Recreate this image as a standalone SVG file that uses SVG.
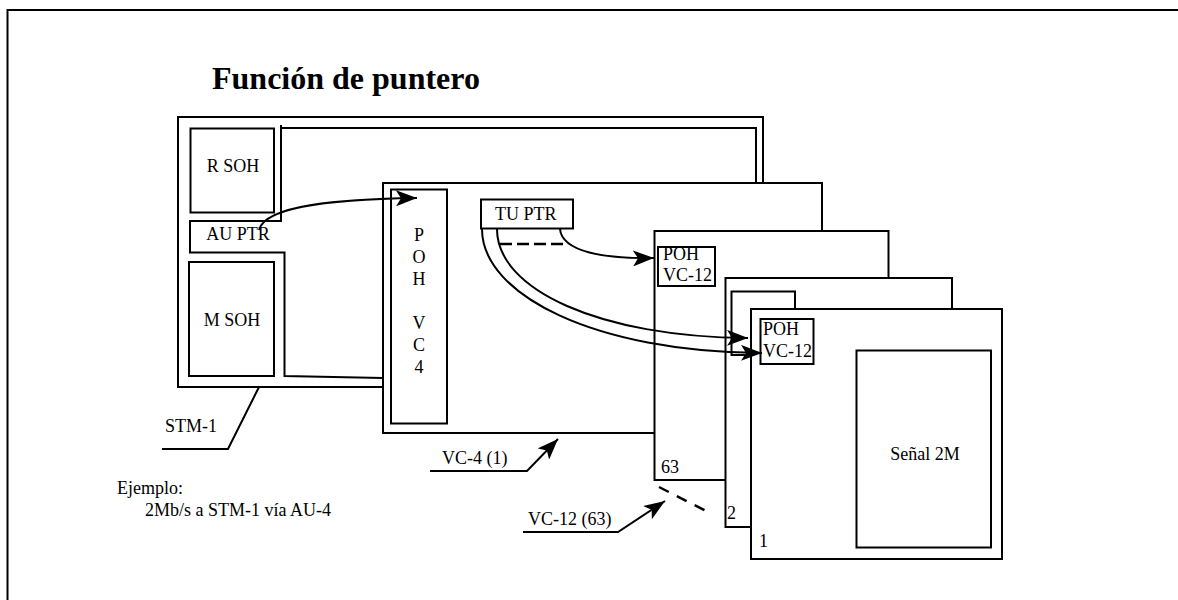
<svg xmlns="http://www.w3.org/2000/svg" width="1178" height="600" viewBox="0 0 1178 600">
<style>
.ln{fill:none;stroke:#000;stroke-width:2}
.bx{fill:#fff;stroke:#000;stroke-width:2}
.t{font-family:"Liberation Serif","Times New Roman",serif;font-size:18px;fill:#000}
.m{text-anchor:middle}
.ttl{font-family:"Liberation Serif","Times New Roman",serif;font-size:32px;font-weight:bold;fill:#000}
.dash{fill:none;stroke:#000;stroke-width:2.5;stroke-dasharray:12 5}
.dash2{fill:none;stroke:#000;stroke-width:2.5;stroke-dasharray:11 9}
.arr{fill:none;stroke:#000;stroke-width:2;marker-end:url(#ah)}
</style>
<defs>
<marker id="ah" viewBox="0 0 22 16" markerWidth="22" markerHeight="16" refX="21" refY="8" orient="auto" markerUnits="userSpaceOnUse">
<path d="M0,0 L21,8 L0,16 L5,8 Z" fill="#000"/>
</marker>
</defs>
<rect width="1178" height="600" fill="#fff"/>
<path class="ln" d="M7.5,600 V10 H1178"/>
<text class="ttl" x="212" y="89">Función de puntero</text>

<g id="stm1">
<path class="ln" d="M177,117 H763 V387 H177 M178,117 V387"/>
<path class="ln" d="M281,125 V221 H190 V252.5 H284.5 V376 L383,378"/>
<path class="ln" d="M281,128 H756 V380"/>
<rect class="ln" x="190.5" y="128.5" width="83.5" height="84"/>
<rect class="ln" x="189" y="262" width="85" height="114"/>
<text class="t m" x="233" y="172">R SOH</text>
<text class="t m" x="238" y="240">AU PTR</text>
<text class="t m" x="232" y="326">M SOH</text>
<path class="ln" d="M259,387 L228,449 H162"/>
<text class="t" x="165" y="432">STM-1</text>
</g>

<g id="vc4">
<rect class="bx" x="383" y="183" width="439" height="250"/>
<rect class="ln" x="391" y="189.5" width="56" height="234"/>
<text class="t m" x="419" y="241">P</text>
<text class="t m" x="419" y="263">O</text>
<text class="t m" x="419" y="285">H</text>
<text class="t m" x="419" y="329">V</text>
<text class="t m" x="419" y="351">C</text>
<text class="t m" x="419" y="373">4</text>
</g>

<g id="tuptr">
<rect class="ln" x="481" y="199.5" width="92" height="29"/>
<text class="t" x="495" y="220">TU PTR</text>
</g>

<g id="vc12-63">
<rect class="bx" x="654.5" y="231" width="234" height="249"/>
<rect class="ln" x="658" y="247" width="57" height="39"/>
<text class="t" x="663" y="260">POH</text>
<text class="t" x="663" y="281">VC-12</text>
<text class="t" x="661" y="473">63</text>
</g>

<g id="vc12-2">
<rect class="bx" x="725.5" y="278" width="226.5" height="249"/>
<rect class="ln" x="731.5" y="291.5" width="63.5" height="63.5"/>
<text class="t" x="727" y="519">2</text>
</g>

<g id="vc12-1">
<rect class="bx" x="751" y="309" width="251" height="250"/>
<rect class="ln" x="760.5" y="319" width="53" height="45"/>
<text class="t" x="763" y="335">POH</text>
<text class="t" x="763" y="357">VC-12</text>
<text class="t" x="759" y="547">1</text>
<rect class="ln" x="856.5" y="350.5" width="134.5" height="197"/>
<text class="t m" x="925" y="460">Señal 2M</text>
</g>

<g id="labels">
<text class="t" x="442" y="464">VC-4 (1)</text>
<text class="t" x="528" y="525">VC-12 (63)</text>
<text class="t" x="117" y="494">Ejemplo:</text>
<text class="t" x="145" y="516">2Mb/s a STM-1 vía AU-4</text>
</g>

<g id="connectors">
<path class="arr" d="M259,230 C265,205 340,199 417,198"/>
<path class="dash" d="M500,244 H565"/>
<path class="arr" d="M560,229 C562,252 605,259 654,258"/>
<path class="arr" d="M482,229 C482,295 595,352 762,353"/>
<path class="arr" d="M497,229 C497,290 600,337 748,338"/>
<path class="arr" d="M430,471 H527 L558,439"/>
<path class="arr" d="M523,532 H618 L665,501"/>
<path class="dash2" d="M659,487 L712,514"/>
</g>
</svg>
